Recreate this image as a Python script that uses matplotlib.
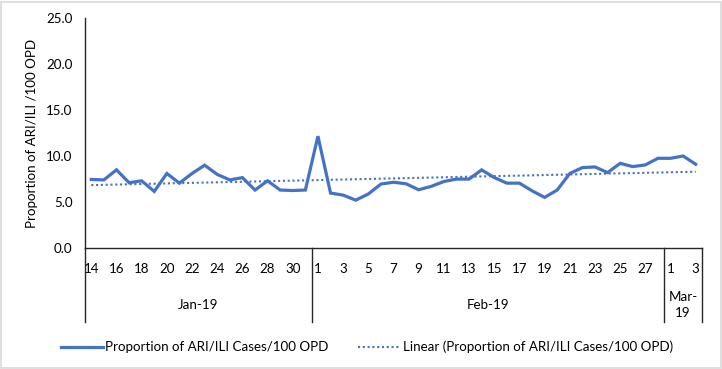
import numpy as np
import matplotlib
matplotlib.use("Agg")
import matplotlib.pyplot as plt
from matplotlib.patches import Rectangle
import matplotlib.transforms as mtrans

plt.rcParams['font.family'] = ['Lato', 'DejaVu Sans']

# ---- data ----
jan_days = list(range(14, 32))
feb_days = list(range(1, 29))
mar_days = [1, 2, 3]
months = ["Jan-19", "Feb-19", "Mar-\n19"]

jan_vals = [7.45, 7.4, 8.5, 7.1, 7.3, 6.15, 8.1, 7.05, 8.1, 9.0,
            8.0, 7.4, 7.65, 6.3, 7.3, 6.3, 6.25, 6.3]
feb_vals = [12.15, 5.97, 5.75, 5.2, 5.87, 6.95, 7.15, 6.98, 6.33, 6.7,
            7.23, 7.49, 7.49, 8.49, 7.66, 7.05, 7.05, 6.22, 5.5, 6.3,
            8.1, 8.74, 8.81, 8.2, 9.2, 8.85, 9.03, 9.75]
mar_vals = [9.75, 10.0, 9.1]

series_name = "Proportion of ARI/ILI Cases/100 OPD"
y_label = "Proportion of ARI/ILI /100 OPD"

days = jan_days + feb_days + mar_days
vals = np.array(jan_vals + feb_vals + mar_vals)
x = np.arange(len(vals))
group_sizes = [len(jan_days), len(feb_days), len(mar_days)]

# linear trend like Excel
coef = np.polyfit(x, vals, 1)
trend = np.polyval(coef, x)

W, H = 722, 369
fs = 9.6
fig = plt.figure(figsize=(W / 100, H / 100), dpi=100)
fig.patch.set_facecolor("white")
fig.patches.append(Rectangle((1 / W, 1 / H), 1 - 2.5 / W, 1 - 2.5 / H,
                             transform=fig.transFigure, fill=False,
                             edgecolor="#D9D9D9", linewidth=1.2))

ax_l, ax_r, ax_t, ax_b = 85, 702, 18, 248
ax = fig.add_axes([ax_l / W, 1 - ax_b / H, (ax_r - ax_l) / W, (ax_b - ax_t) / H])

blue = "#4472C4"
ax.plot(x, vals, color=blue, linewidth=2.3, solid_joinstyle="miter",
        label=series_name)
ax.plot(x, trend, color=blue, linewidth=1.5, linestyle=(0, (1, 1.3)),
        label="Linear (" + series_name + ")")

ax.set_xlim(-0.5, len(vals) - 0.5)
ax.set_ylim(0, 25)
ax.set_yticks(np.arange(0, 26, 5))
ax.set_yticklabels([f"{v:.1f}" for v in np.arange(0, 26, 5)], fontsize=fs)
ax.set_ylabel(y_label, fontsize=fs, labelpad=6)

# day labels: every other category inside each month
tick_pos, tick_lab = [], []
start = 0
for n, dlist in zip(group_sizes, [jan_days, feb_days, mar_days]):
    for i in range(0, n, 2):
        tick_pos.append(start + i)
        tick_lab.append(str(dlist[i]))
    start += n
ax.set_xticks(tick_pos)
ax.set_xticklabels(tick_lab, fontsize=fs)
ax.tick_params(axis="x", length=0, pad=11)
ax.tick_params(axis="y", length=0, pad=9)

for s in ["top", "right"]:
    ax.spines[s].set_visible(False)
for s in ["left", "bottom"]:
    ax.spines[s].set_color("#262626")
    ax.spines[s].set_linewidth(1.0)

# multi-level category axis: separators and month names
trans = mtrans.blended_transform_factory(ax.transData, ax.transAxes)
depth = (322 - ax_b) / (ax_b - ax_t)
bounds = np.concatenate([[0], np.cumsum(group_sizes)]) - 0.5
for b in bounds:
    ax.plot([b, b], [0, -depth], transform=trans, color="#262626",
            linewidth=1.0, clip_on=False)
for i, m in enumerate(months):
    cx = (bounds[i] + bounds[i + 1]) / 2
    ax.text(cx, -(305 - ax_b) / (ax_b - ax_t), m, transform=trans,
            ha="center", va="center", fontsize=fs, linespacing=1.45)

fig.legend(loc="center", bbox_to_anchor=(0.508, 1 - 347 / H), ncol=2,
           frameon=False, fontsize=9.6, handlelength=3.2,
           columnspacing=2.2, handletextpad=0.15)

fig.savefig("out.png", dpi=100)
